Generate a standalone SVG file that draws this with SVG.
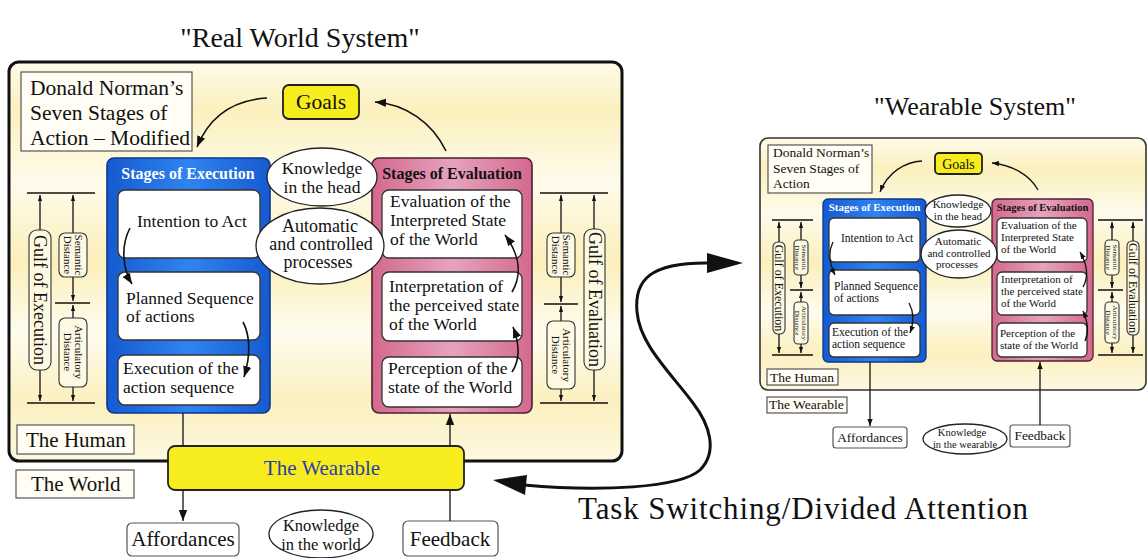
<svg xmlns="http://www.w3.org/2000/svg" width="1148" height="558" viewBox="0 0 1148 558">
  <defs>
    <style>
      .t { font-family: "Liberation Serif", "Times New Roman", serif; fill: #111; }
      .b { font-weight: bold; }
      .box { fill: #ffffff; stroke: #333; stroke-width: 1.3; }
      .lbl { fill: #fffdf4; stroke: #555; stroke-width: 1.2; }
      .pill { fill: #fdf9e2; stroke: #333; stroke-width: 1.1; }
      .ln { stroke: #111; fill: none; stroke-width: 1.3; }
      .cv { stroke: #111; fill: none; stroke-width: 1.6; }
      .yel { fill: #f7ec1e; stroke: #222; stroke-width: 1.8; }
      .bal { fill: #ffffff; stroke: #222; stroke-width: 1.3; }
    </style>
    <linearGradient id="bg" x1="0" y1="0" x2="0" y2="1">
      <stop offset="0" stop-color="#fefbea"/>
      <stop offset="0.12" stop-color="#fbf0bd"/>
      <stop offset="0.3" stop-color="#fefbec"/>
      <stop offset="0.5" stop-color="#fbefba"/>
      <stop offset="0.68" stop-color="#fefcef"/>
      <stop offset="0.85" stop-color="#fbf0bf"/>
      <stop offset="1" stop-color="#fdf8e0"/>
    </linearGradient>
    <linearGradient id="blue" x1="0" y1="0" x2="1" y2="0">
      <stop offset="0" stop-color="#165ad0"/>
      <stop offset="0.5" stop-color="#2f84f0"/>
      <stop offset="1" stop-color="#165ad0"/>
    </linearGradient>
    <linearGradient id="pink" x1="0" y1="0" x2="1" y2="0">
      <stop offset="0" stop-color="#d4688f"/>
      <stop offset="0.5" stop-color="#e6a3bd"/>
      <stop offset="1" stop-color="#d4688f"/>
    </linearGradient>
    <marker id="ah" viewBox="0 0 10 10" refX="10" refY="5" markerWidth="11" markerHeight="11" markerUnits="userSpaceOnUse" orient="auto-start-reverse">
      <path d="M0,1.2 L10,5 L0,8.8 Z" fill="#111"/>
    </marker>
    <marker id="sa" viewBox="0 0 10 10" refX="10" refY="5" markerWidth="7" markerHeight="7" markerUnits="userSpaceOnUse" orient="auto-start-reverse">
      <path d="M0,1.2 L10,5 L0,8.8 Z" fill="#111"/>
    </marker>
    <marker id="ga" viewBox="0 0 10 10" refX="10" refY="5" markerWidth="6" markerHeight="6" markerUnits="userSpaceOnUse" orient="auto-start-reverse">
      <path d="M0,1.5 L10,5 L0,8.5 Z" fill="#111"/>
    </marker>
  </defs>

  <rect width="1148" height="558" fill="#ffffff"/>

  <!-- titles -->
  <text class="t" x="300" y="47" font-size="28" text-anchor="middle">"Real World System"</text>
  <text class="t" x="975" y="115" font-size="26" text-anchor="middle">"Wearable System"</text>

  <!-- ===================== real world system ===================== -->
  <g id="human-frame">
    <rect x="9" y="62" width="613" height="399" rx="10" fill="url(#bg)" stroke="#111" stroke-width="3"/>
  </g>

  <g id="title-box">
    <rect class="lbl" x="21" y="72" width="171" height="79"/>
    <text class="t" font-size="21.5"><tspan x="30" y="95">Donald Norman’s</tspan><tspan x="30" y="120">Seven Stages of</tspan><tspan x="30" y="145">Action – Modified</tspan></text>
  </g>

  <g id="goals">
    <rect class="yel" x="283" y="85" width="76" height="34" rx="6"/>
    <text class="t" x="321" y="109" font-size="21.5" text-anchor="middle">Goals</text>
  </g>

  <g id="execution">
    <rect x="107" y="158" width="163" height="255" rx="7" fill="url(#blue)" stroke="#0c378a" stroke-width="1.6"/>
    <text class="t b" x="188" y="179" font-size="16" text-anchor="middle" style="fill:#fff">Stages of Execution</text>
    <g id="intention">
      <rect class="box" x="118" y="190" width="142" height="68" rx="7"/>
      <text class="t" x="137" y="227" font-size="17.5">Intention to Act</text>
    </g>
    <g id="planned">
      <rect class="box" x="118" y="272" width="142" height="68" rx="7"/>
      <text class="t" font-size="17.5"><tspan x="126" y="304">Planned Sequence</tspan><tspan x="126" y="322">of actions</tspan></text>
    </g>
    <g id="exec-seq">
      <rect class="box" x="118" y="355" width="142" height="50" rx="7"/>
      <text class="t" font-size="17.5"><tspan x="123" y="374">Execution of the</tspan><tspan x="123" y="393">action sequence</tspan></text>
    </g>
  </g>

  <g id="evaluation">
    <rect x="372" y="158" width="160" height="255" rx="7" fill="url(#pink)" stroke="#4a2030" stroke-width="1.6"/>
    <text class="t b" x="452" y="179" font-size="16" text-anchor="middle">Stages of Evaluation</text>
    <g id="eval-state">
      <rect class="box" x="382" y="190" width="140" height="68" rx="7"/>
      <text class="t" font-size="17.5"><tspan x="390" y="207">Evaluation of the</tspan><tspan x="390" y="226">Interpreted State</tspan><tspan x="390" y="245">of the World</tspan></text>
    </g>
    <g id="interpretation">
      <rect class="box" x="382" y="272" width="140" height="69" rx="7"/>
      <text class="t" font-size="17.5"><tspan x="389" y="292">Interpretation of</tspan><tspan x="389" y="311">the perceived state</tspan><tspan x="389" y="330">of the World</tspan></text>
    </g>
    <g id="perception">
      <rect class="box" x="382" y="357" width="140" height="50" rx="7"/>
      <text class="t" font-size="17.5"><tspan x="388" y="374">Perception of the</tspan><tspan x="388" y="393">state of the World</tspan></text>
    </g>
  </g>

  <g id="knowledge-head">
    <ellipse class="bal" cx="322" cy="177" rx="55" ry="29"/>
    <text class="t" font-size="17.5" text-anchor="middle"><tspan x="322" y="174">Knowledge</tspan><tspan x="322" y="193">in the head</tspan></text>
  </g>

  <g id="processes">
    <ellipse class="bal" cx="320" cy="246" rx="64" ry="38"/>
    <text class="t" font-size="18" text-anchor="middle"><tspan x="320" y="232">Automatic</tspan><tspan x="321" y="250">and controlled</tspan><tspan x="318" y="268">processes</tspan></text>
  </g>

  <g id="gulf-execution">
    <path class="ln" d="M27 193 H95 M55 303 H90 M27 403 H95"/>
    <line class="ln" x1="40" y1="195" x2="40" y2="401" marker-start="url(#ga)" marker-end="url(#ga)"/>
    <line class="ln" x1="73" y1="195" x2="73" y2="301" marker-start="url(#ga)" marker-end="url(#ga)"/>
    <line class="ln" x1="73" y1="305" x2="73" y2="401" marker-start="url(#ga)" marker-end="url(#ga)"/>
    <rect class="pill" x="29" y="230" width="22" height="140" rx="8"/>
    <text class="t" font-size="18" text-anchor="middle" transform="translate(40,300) rotate(90)" y="6">Gulf of Execution</text>
    <rect class="pill" x="59" y="233" width="28" height="44" rx="6"/>
    <text class="t" font-size="11" text-anchor="middle" transform="translate(73,255) rotate(90)"><tspan x="0" y="-1.5">Semantic</tspan><tspan x="0" y="9.5">Distance</tspan></text>
    <rect class="pill" x="59" y="318" width="28" height="69" rx="6"/>
    <text class="t" font-size="11" text-anchor="middle" transform="translate(73,352) rotate(90)"><tspan x="0" y="-1.5">Articulatory</tspan><tspan x="0" y="9.5">Distance</tspan></text>
  </g>

  <g id="gulf-evaluation">
    <path class="ln" d="M540 193 H608 M544 304 H578 M540 403 H608"/>
    <line class="ln" x1="594" y1="195" x2="594" y2="401" marker-start="url(#ga)" marker-end="url(#ga)"/>
    <line class="ln" x1="561" y1="195" x2="561" y2="302" marker-start="url(#ga)" marker-end="url(#ga)"/>
    <line class="ln" x1="561" y1="306" x2="561" y2="401" marker-start="url(#ga)" marker-end="url(#ga)"/>
    <rect class="pill" x="584" y="229" width="21" height="141" rx="8"/>
    <text class="t" font-size="18" text-anchor="middle" transform="translate(594.5,299.5) rotate(90)" y="6">Gulf of Evaluation</text>
    <rect class="pill" x="547" y="233" width="28" height="44" rx="6"/>
    <text class="t" font-size="11" text-anchor="middle" transform="translate(561,255) rotate(90)"><tspan x="0" y="-1.5">Semantic</tspan><tspan x="0" y="9.5">Distance</tspan></text>
    <rect class="pill" x="547" y="321" width="28" height="68" rx="6"/>
    <text class="t" font-size="11" text-anchor="middle" transform="translate(561,355) rotate(90)"><tspan x="0" y="-1.5">Articulatory</tspan><tspan x="0" y="9.5">Distance</tspan></text>
  </g>

  <g id="the-human">
    <rect class="lbl" x="17" y="425" width="117" height="29"/>
    <text class="t" x="26" y="447" font-size="21">The Human</text>
  </g>

  <g id="the-world">
    <rect class="lbl" x="16" y="470" width="118" height="28"/>
    <text class="t" x="31" y="491" font-size="21">The World</text>
  </g>

  <g id="wearable">
    <rect class="yel" x="168" y="446" width="296" height="44" rx="7" stroke-width="2.2"/>
    <text class="t" x="322" y="475" font-size="21" text-anchor="middle" style="fill:#2b3fa6">The Wearable</text>
  </g>

  <g id="affordances">
    <rect class="lbl" x="127" y="523" width="112" height="33" rx="5" style="fill:#fff"/>
    <text class="t" x="183" y="546" font-size="21" text-anchor="middle">Affordances</text>
  </g>

  <g id="knowledge-world">
    <ellipse class="bal" cx="321" cy="534" rx="52" ry="24"/>
    <text class="t" font-size="16.5" text-anchor="middle"><tspan x="321" y="531">Knowledge</tspan><tspan x="321" y="550">in the world</tspan></text>
  </g>

  <g id="feedback">
    <rect class="lbl" x="403" y="521" width="95" height="35" rx="5" style="fill:#fff"/>
    <text class="t" x="450" y="546" font-size="21" text-anchor="middle">Feedback</text>
  </g>

  <!-- ===================== wearable system ===================== -->
  <g id="w-frame">
    <rect x="760" y="138" width="386" height="252" rx="8" fill="url(#bg)" stroke="#333" stroke-width="1.6"/>
  </g>

  <g id="w-title-box">
    <rect class="lbl" x="768" y="145" width="104" height="48"/>
    <text class="t" font-size="13.5"><tspan x="773" y="157">Donald Norman’s</tspan><tspan x="773" y="173">Seven Stages of</tspan><tspan x="773" y="188">Action</tspan></text>
  </g>

  <g id="w-goals">
    <rect class="yel" x="935" y="153" width="47" height="21" rx="4" stroke-width="1.3"/>
    <text class="t" x="958.5" y="169" font-size="14" text-anchor="middle">Goals</text>
  </g>

  <g id="w-execution">
    <rect x="823" y="199" width="103" height="163" rx="5" fill="url(#blue)" stroke="#0c378a" stroke-width="1.3"/>
    <text class="t b" x="874.5" y="211" font-size="11" text-anchor="middle" style="fill:#fff">Stages of Execution</text>
    <g id="w-intention">
      <rect class="box" x="829" y="218" width="91" height="44" rx="5"/>
      <text class="t" x="841" y="242" font-size="11.5">Intention to Act</text>
    </g>
    <g id="w-planned">
      <rect class="box" x="829" y="270" width="91" height="45" rx="5"/>
      <text class="t" font-size="11.5"><tspan x="834" y="290">Planned Sequence</tspan><tspan x="834" y="302">of actions</tspan></text>
    </g>
    <g id="w-exec-seq">
      <rect class="box" x="829" y="323" width="91" height="34" rx="5"/>
      <text class="t" font-size="11.5"><tspan x="832" y="336">Execution of the</tspan><tspan x="832" y="348">action sequence</tspan></text>
    </g>
  </g>

  <g id="w-evaluation">
    <rect x="992" y="199" width="101" height="162" rx="5" fill="url(#pink)" stroke="#4a2030" stroke-width="1.3"/>
    <text class="t b" x="1042.5" y="211" font-size="10.5" text-anchor="middle">Stages of Evaluation</text>
    <g id="w-eval-state">
      <rect class="box" x="997" y="218" width="90" height="44" rx="5"/>
      <text class="t" font-size="11"><tspan x="1001" y="229">Evaluation of the</tspan><tspan x="1001" y="241">Interpreted State</tspan><tspan x="1001" y="253">of the World</tspan></text>
    </g>
    <g id="w-interpretation">
      <rect class="box" x="997" y="272" width="90" height="43" rx="5"/>
      <text class="t" font-size="11"><tspan x="1001" y="283">Interpretation of</tspan><tspan x="1001" y="295">the perceived state</tspan><tspan x="1001" y="307">of the World</tspan></text>
    </g>
    <g id="w-perception">
      <rect class="box" x="997" y="323" width="90" height="34" rx="5"/>
      <text class="t" font-size="11"><tspan x="1000" y="337">Perception of the</tspan><tspan x="1000" y="349">state of the World</tspan></text>
    </g>
  </g>

  <g id="w-knowledge-head">
    <ellipse class="bal" cx="958" cy="211" rx="33" ry="16"/>
    <text class="t" font-size="11" text-anchor="middle"><tspan x="958" y="208">Knowledge</tspan><tspan x="958" y="220">in the head</tspan></text>
  </g>

  <g id="w-processes">
    <ellipse class="bal" cx="959" cy="254" rx="38" ry="24"/>
    <text class="t" font-size="11" text-anchor="middle"><tspan x="958" y="245">Automatic</tspan><tspan x="959" y="257">and controlled</tspan><tspan x="957" y="268">processes</tspan></text>
  </g>

  <g id="w-gulf-execution">
    <path class="ln" d="M772 220 H813 M790 290 H813 M772 355 H813" stroke-width="1"/>
    <line class="ln" x1="779" y1="222" x2="779" y2="353" stroke-width="1" marker-start="url(#ga)" marker-end="url(#ga)"/>
    <line class="ln" x1="801" y1="222" x2="801" y2="288" stroke-width="1" marker-start="url(#ga)" marker-end="url(#ga)"/>
    <line class="ln" x1="801" y1="292" x2="801" y2="353" stroke-width="1" marker-start="url(#ga)" marker-end="url(#ga)"/>
    <rect class="pill" x="773" y="242" width="12" height="92" rx="5"/>
    <text class="t" font-size="12" text-anchor="middle" transform="translate(779,288) rotate(90)" y="4">Gulf of Execution</text>
    <rect class="pill" x="794" y="240" width="14" height="35" rx="4"/>
    <text class="t" font-size="7" text-anchor="middle" transform="translate(801,257.5) rotate(90)"><tspan x="0" y="-1">Semantic</tspan><tspan x="0" y="6">Distance</tspan></text>
    <rect class="pill" x="794" y="302" width="14" height="42" rx="4"/>
    <text class="t" font-size="7" text-anchor="middle" transform="translate(801,323) rotate(90)"><tspan x="0" y="-1">Articulatory</tspan><tspan x="0" y="6">Distance</tspan></text>
  </g>

  <g id="w-gulf-evaluation">
    <path class="ln" d="M1098 220 H1143 M1098 290 H1123 M1098 355 H1143" stroke-width="1"/>
    <line class="ln" x1="1133" y1="222" x2="1133" y2="353" stroke-width="1" marker-start="url(#ga)" marker-end="url(#ga)"/>
    <line class="ln" x1="1112" y1="222" x2="1112" y2="288" stroke-width="1" marker-start="url(#ga)" marker-end="url(#ga)"/>
    <line class="ln" x1="1112" y1="292" x2="1112" y2="353" stroke-width="1" marker-start="url(#ga)" marker-end="url(#ga)"/>
    <rect class="pill" x="1127" y="241" width="12" height="94" rx="5"/>
    <text class="t" font-size="12" text-anchor="middle" transform="translate(1133,288) rotate(90)" y="4">Gulf of Evaluation</text>
    <rect class="pill" x="1105" y="240" width="14" height="35" rx="4"/>
    <text class="t" font-size="7" text-anchor="middle" transform="translate(1112,257.5) rotate(90)"><tspan x="0" y="-1">Semantic</tspan><tspan x="0" y="6">Distance</tspan></text>
    <rect class="pill" x="1105" y="302" width="14" height="41" rx="4"/>
    <text class="t" font-size="7" text-anchor="middle" transform="translate(1112,322.5) rotate(90)"><tspan x="0" y="-1">Articulatory</tspan><tspan x="0" y="6">Distance</tspan></text>
  </g>

  <g id="w-the-human">
    <rect class="lbl" x="767" y="369" width="71" height="16"/>
    <text class="t" x="770" y="382" font-size="13.5">The Human</text>
  </g>

  <g id="w-the-wearable">
    <rect class="lbl" x="767" y="397" width="80" height="16"/>
    <text class="t" x="769" y="409" font-size="13.5">The Wearable</text>
  </g>

  <g id="w-affordances">
    <rect class="lbl" x="833" y="427" width="74" height="21" rx="3" style="fill:#fff"/>
    <text class="t" x="870" y="442" font-size="13.3" text-anchor="middle">Affordances</text>
  </g>

  <g id="w-knowledge-wearable">
    <ellipse class="bal" cx="965" cy="439" rx="42" ry="15"/>
    <text class="t" font-size="10.5" text-anchor="middle"><tspan x="962" y="436">Knowledge</tspan><tspan x="965" y="448">in the wearable</tspan></text>
  </g>

  <g id="w-feedback">
    <rect class="lbl" x="1010" y="425" width="60" height="22" rx="3" style="fill:#fff"/>
    <text class="t" x="1040" y="440" font-size="13.3" text-anchor="middle">Feedback</text>
  </g>

  <!-- task switching label -->
  <text class="t" x="578" y="519" font-size="31" textLength="450">Task Switching/Divided Attention</text>

  <!-- ===================== connectors ===================== -->
  <g id="connectors">
    <!-- real world system -->
    <path class="cv" d="M267 98 C 235 100, 210 115, 197 147" marker-end="url(#ah)"/>
    <path class="cv" d="M446 151 C 432 122, 405 104, 375 102" marker-end="url(#ah)"/>
    <path class="cv" d="M130 228 C 121 245, 122 268, 132 284" marker-end="url(#ah)"/>
    <path class="cv" d="M243 322 C 250 335, 251 355, 244 377" marker-end="url(#ah)"/>
    <path class="cv" d="M512 292 C 522 275, 520 255, 505 235" marker-end="url(#ah)"/>
    <path class="cv" d="M512 372 C 520 360, 520 345, 513 327" marker-end="url(#ah)"/>
    <line class="ln" x1="183" y1="413" x2="183" y2="446"/>
    <line class="ln" x1="183" y1="490" x2="183" y2="521" marker-end="url(#ah)"/>
    <line class="ln" x1="450" y1="521" x2="450" y2="490"/>
    <line class="ln" x1="450" y1="446" x2="450" y2="414" marker-end="url(#ah)"/>

    <!-- wearable system -->
    <path class="ln" d="M922 161 C 905 162, 888 172, 880 192" marker-end="url(#sa)"/>
    <path class="ln" d="M1038 190 C 1030 175, 1012 165, 992 163" marker-end="url(#sa)"/>
    <path class="ln" d="M833 242 C 828 252, 829 263, 835 275" marker-end="url(#sa)"/>
    <path class="ln" d="M909 303 C 914 312, 914 322, 910 333" marker-end="url(#sa)"/>
    <path class="ln" d="M1083 287 C 1089 276, 1087 264, 1080 252" marker-end="url(#sa)"/>
    <path class="ln" d="M1085 341 C 1089 332, 1088 322, 1083 311" marker-end="url(#sa)"/>
    <line class="ln" x1="870" y1="362" x2="870" y2="426" marker-end="url(#sa)"/>
    <line class="ln" x1="1040" y1="425" x2="1040" y2="362" marker-end="url(#sa)"/>

    <!-- task switching link -->
    <path d="M524 485 C 600 492, 680 488, 700 470 C 718 452, 710 425, 693 403 C 670 372, 640 345, 637 312 C 634 280, 650 262, 710 263" fill="none" stroke="#111" stroke-width="3"/>
    <polygon points="493,480 527,475 525,495" fill="#111"/>
    <polygon points="743,263 707,253 707,273" fill="#111"/>
  </g>
</svg>
